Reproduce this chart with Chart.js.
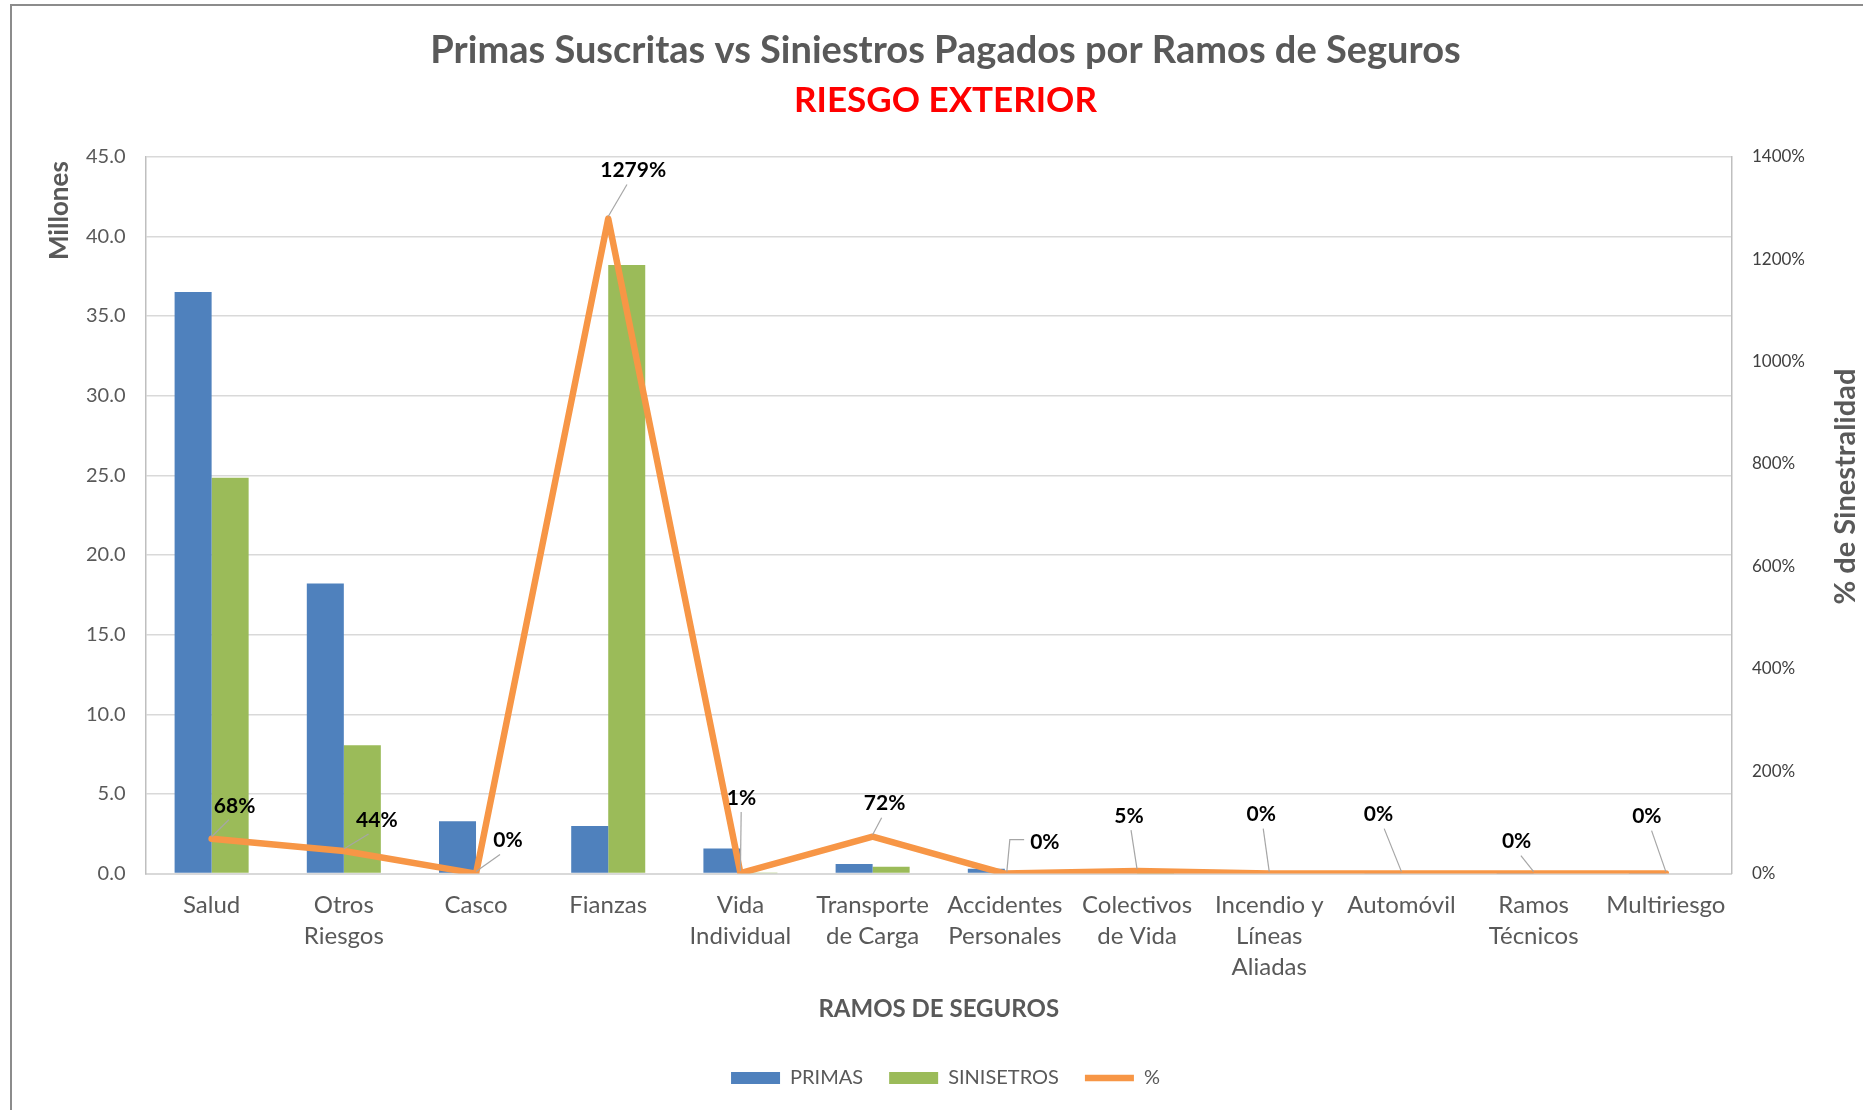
<!DOCTYPE html>
<html>
<head>
<meta charset="utf-8">
<script src="https://cdn.jsdelivr.net/npm/chart.js@4.4.1/dist/chart.umd.min.js"></script>
<style>
  html, body { margin: 0; padding: 0; background: #fff; }
  body { width: 1863px; height: 1110px; overflow: hidden; position: relative; }
  #box { position: absolute; left: 10px; top: 4px; width: 1853px; height: 1106px;
         border-left: 2px solid #8c8c8c; border-top: 2px solid #8c8c8c; }
  #wrap { position: absolute; left: 0; top: 0; width: 1851px; height: 1104px; }
</style>
</head>
<body>
<div id="box"><div id="wrap"><canvas id="myChart"></canvas></div></div>
<script>
// data (millones / %)
const categories = [
  ['Salud'], ['Otros', 'Riesgos'], ['Casco'], ['Fianzas'], ['Vida', 'Individual'],
  ['Transporte', 'de Carga'], ['Accidentes', 'Personales'], ['Colectivos', 'de Vida'],
  ['Incendio y', 'Líneas', 'Aliadas'], ['Automóvil'], ['Ramos', 'Técnicos'], ['Multiriesgo']
];
const primas     = [36.5, 18.2, 3.28, 2.99, 1.57, 0.60, 0.30, 0.04, 0.03, 0.02, 0.01, 0.01];
const siniestros = [24.85, 8.06, 0, 38.2, 0.016, 0.43, 0, 0.002, 0, 0, 0, 0];
const porcentaje = [68, 44, 0, 1279, 1, 72, 0, 5, 0, 0, 0, 0];
const millonesTicks = [0, 5, 10, 15, 20, 25, 30, 35, 40, 45];
const pctTicks = [0, 200, 400, 600, 800, 1000, 1200, 1400];

// where each % label sits relative to its point
const labelOffsets = [[23, -33], [33, -31], [32, -33], [25, -48], [1, -75], [12, -33],
                      [40, -31], [-8, -55], [-8, -59], [-23, -59], [-17, -32], [-19, -57]];
const elbow = [false, false, false, false, false, false, true, false, false, false, false, false];

const grey = '#595959';
Chart.defaults.font.family = 'Lato';

const pctLabels = {
  id: 'pctLabels',
  afterDatasetsDraw(chart) {
    const ctx = chart.ctx;
    const meta = chart.getDatasetMeta(2);
    ctx.save();
    ctx.font = 'bold 21px Lato';
    ctx.textAlign = 'center';
    ctx.textBaseline = 'middle';
    meta.data.forEach((pt, i) => {
      const txt = porcentaje[i] + '%';
      const dx = labelOffsets[i][0];
      const lx = pt.x + dx;
      const ly = pt.y + labelOffsets[i][1];
      const w = ctx.measureText(txt).width;
      ctx.strokeStyle = '#a6a6a6';
      ctx.lineWidth = 1.2;
      ctx.beginPath();
      if (elbow[i]) {
        ctx.moveTo(pt.x + 2, pt.y - 2);
        ctx.lineTo(pt.x + 5, ly - 3);
        ctx.lineTo(lx - w / 2 - 6, ly - 3);
      } else {
        ctx.moveTo(pt.x, pt.y - 2);
        ctx.lineTo(pt.x + dx * 0.75, ly + 14);
      }
      ctx.stroke();
      ctx.fillStyle = '#000';
      ctx.fillText(txt, lx, ly);
    });
    ctx.restore();
  },
  afterDraw(chart) {
    const ctx = chart.ctx;
    const a = chart.chartArea;
    ctx.save();
    ctx.fillStyle = grey;
    ctx.textAlign = 'center';
    ctx.textBaseline = 'middle';
    ctx.font = 'bold 26px Lato';
    ctx.translate(a.left - 86, a.top + 54);
    ctx.rotate(-Math.PI / 2);
    ctx.fillText('Millones', 0, 0);
    ctx.restore();
    ctx.save();
    ctx.fillStyle = grey;
    ctx.textAlign = 'center';
    ctx.textBaseline = 'middle';
    ctx.font = 'bold 29px Lato';
    ctx.translate(a.right + 114, a.top + 330);
    ctx.rotate(-Math.PI / 2);
    ctx.fillText('% de Sinestralidad', 0, 0);
    ctx.restore();
  }
};

const ctx = document.getElementById('myChart').getContext('2d');
const myChart = new Chart(ctx, {
  type: 'bar',
  data: {
    labels: categories,
    datasets: [
      { label: 'PRIMAS', data: primas, backgroundColor: '#4F81BD', yAxisID: 'y',
        order: 1, pointStyle: 'rect', categoryPercentage: 0.56, barPercentage: 1.0 },
      { label: 'SINISETROS', data: siniestros, backgroundColor: '#9BBB59', yAxisID: 'y',
        order: 1, pointStyle: 'rect', categoryPercentage: 0.56, barPercentage: 1.0 },
      { type: 'line', label: '%', data: porcentaje, yAxisID: 'y2', order: 0,
        borderColor: '#F79646', backgroundColor: '#F79646', borderWidth: 6.5,
        borderCapStyle: 'round', borderJoinStyle: 'round',
        pointRadius: 0, pointHoverRadius: 0, tension: 0, pointStyle: 'line' }
    ]
  },
  options: {
    responsive: true,
    maintainAspectRatio: false,
    animation: false,
    layout: { padding: { left: 54, right: 38, bottom: 12 } },
    scales: {
      x: {
        grid: { display: false },
        border: { color: '#d9d9d9', width: 2 },
        ticks: { color: grey, font: { size: 24, lineHeight: 1.3 }, padding: 8,
                 maxRotation: 0, autoSkip: false },
        title: { display: true, text: 'RAMOS DE SEGUROS', color: grey,
                 font: { size: 24, weight: 'bold' }, padding: { top: 4, bottom: 18 } }
      },
      y: {
        position: 'left', min: 0, max: 45,
        afterBuildTicks: (s) => { s.ticks = millonesTicks.map(v => ({ value: v })); },
        grid: { color: '#d9d9d9', lineWidth: 1.5, drawTicks: false },
        border: { color: '#bfbfbf', width: 1.5 },
        ticks: { color: grey, font: { size: 20 }, padding: 20,
                 callback: (v) => Number(v).toFixed(1) }
      },
      y2: {
        position: 'right', min: 0, max: 1400,
        afterBuildTicks: (s) => { s.ticks = pctTicks.map(v => ({ value: v })); },
        grid: { drawOnChartArea: false, drawTicks: false },
        border: { color: '#bfbfbf', width: 1.5 },
        ticks: { color: '#404040', font: { size: 17 }, padding: 20,
                 callback: (v) => v + '%' }
      }
    },
    plugins: {
      title: { display: true, text: 'Primas Suscritas vs Siniestros Pagados por Ramos de Seguros',
               color: grey, font: { size: 38, weight: 'bold' }, padding: { top: 22, bottom: 2 } },
      subtitle: { display: true, text: 'RIESGO EXTERIOR', color: '#FF0000',
                  font: { size: 35, weight: 'bold' }, padding: { top: 4, bottom: 35 } },
      legend: {
        position: 'bottom',
        labels: { usePointStyle: true, pointStyleWidth: 49, boxHeight: 12, color: grey,
                  font: { size: 20 }, padding: 26,
                  sort: (a, b) => a.datasetIndex - b.datasetIndex }
      },
      tooltip: { enabled: false }
    }
  },
  plugins: [pctLabels]
});
</script>
</body>
</html>
